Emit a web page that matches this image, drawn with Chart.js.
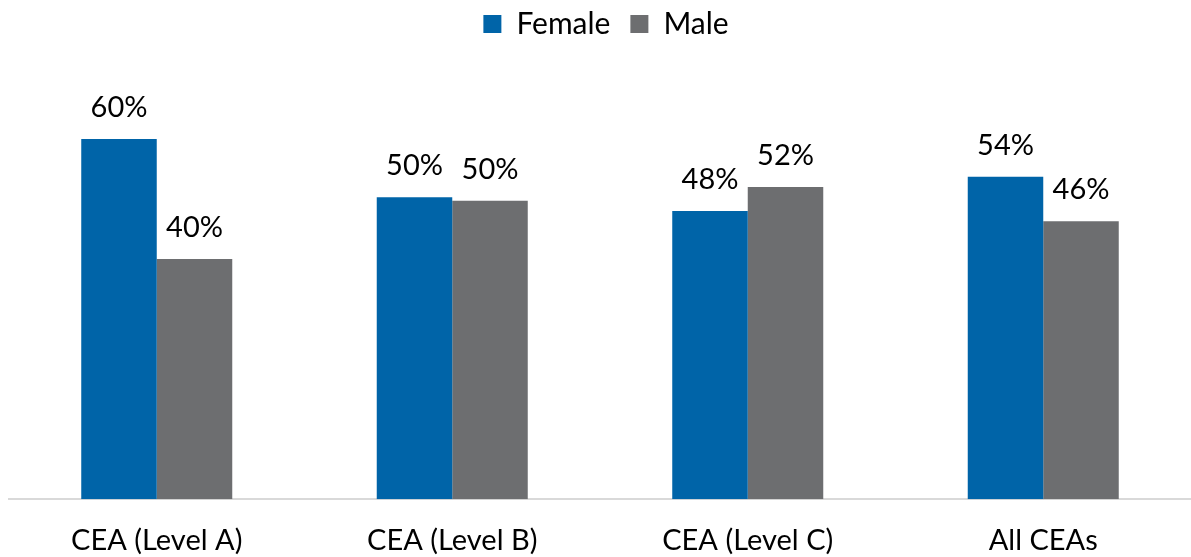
<!DOCTYPE html>
<html>
<head>
<meta charset="utf-8">
<script src="https://cdn.jsdelivr.net/npm/chart.js@4/dist/chart.umd.min.js"></script>
<style>
    html, body { margin: 0; padding: 0; background: #fff; }
    #wrap { width: 1191px; height: 557px; position: relative; }
</style>
</head>
<body>
<div id="wrap"><canvas id="myChart"></canvas></div>
<script>
const categories = ['CEA (Level A)', 'CEA (Level B)', 'CEA (Level C)', 'All CEAs'];
const female = [60, 50.3, 48, 53.7];
const male = [40, 49.7, 52, 46.3];

const FONT = 'Lato, "Open Sans", sans-serif';
const FONT_SIZE = 29;

// draws the % value above each bar
const barLabels = {
    id: 'barLabels',
    afterDatasetsDraw(chart) {
        const ctx = chart.ctx;
        ctx.save();
        ctx.font = FONT_SIZE + 'px ' + FONT;
        ctx.fillStyle = '#000';
        ctx.textAlign = 'center';
        ctx.textBaseline = 'bottom';
        chart.data.datasets.forEach((ds, i) => {
            chart.getDatasetMeta(i).data.forEach((bar, j) => {
                ctx.fillText(Math.round(ds.data[j]) + '%', bar.x, bar.y - 17);
            });
        });
        ctx.restore();
    }
};

// extra room below the legend, and nudge it a bit to the right
const legendSpace = {
    id: 'legendSpace',
    beforeInit(chart) {
        const legend = chart.legend;
        const origFit = legend.fit;
        legend.fit = function fit() {
            origFit.bind(legend)();
            this.height += 30;
        };
        const origDraw = legend.draw;
        legend.draw = function draw() {
            chart.ctx.save();
            chart.ctx.translate(6, 0);
            origDraw.bind(legend)();
            chart.ctx.restore();
        };
    }
};

const ctx = document.getElementById('myChart').getContext('2d');
const myChart = new Chart(ctx, {
    type: 'bar',
    data: {
        labels: categories,
        datasets: [{
            label: 'Female',
            data: female,
            backgroundColor: '#0064A8'
        }, {
            label: 'Male',
            data: male,
            backgroundColor: '#6D6E70'
        }]
    },
    options: {
        responsive: true,
        maintainAspectRatio: false,
        animation: false,
        categoryPercentage: 0.511,
        barPercentage: 1,
        layout: {
            padding: { left: 9, right: 0, top: -11, bottom: -17 }
        },
        scales: {
            x: {
                grid: { display: false },
                border: { color: '#D9D9D9', width: 2 },
                ticks: {
                    color: '#000',
                    padding: 16,
                    font: { family: FONT, size: FONT_SIZE }
                }
            },
            y: {
                display: false,
                min: 0,
                max: 70
            }
        },
        plugins: {
            tooltip: { enabled: false },
            legend: {
                position: 'top',
                labels: {
                    color: '#000',
                    boxWidth: 18,
                    boxHeight: 18,
                    padding: 20,
                    font: { family: FONT, size: 30 }
                }
            }
        }
    },
    plugins: [barLabels, legendSpace]
});
</script>
</body>
</html>
